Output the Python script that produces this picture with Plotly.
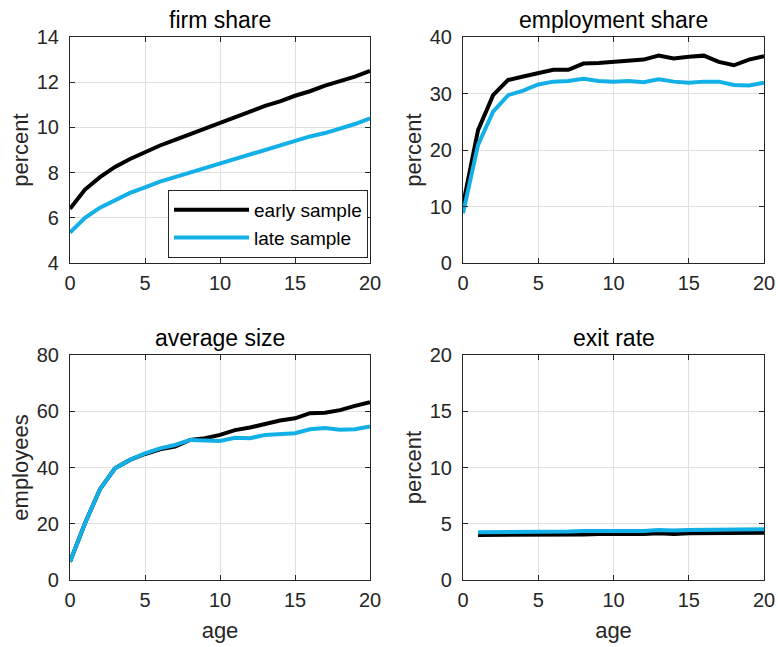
import plotly.graph_objects as go

ages = list(range(0, 21))
exit_ages = list(range(1, 21))

firm_early = [6.4, 7.25, 7.8, 8.25, 8.6, 8.9, 9.2, 9.45, 9.7, 9.95, 10.2,
              10.45, 10.7, 10.95, 11.15, 11.4, 11.6, 11.85, 12.05, 12.25, 12.5]
firm_late = [5.35, 6.0, 6.45, 6.8, 7.1, 7.35, 7.6, 7.8, 8.0, 8.2, 8.4,
             8.6, 8.8, 9.0, 9.2, 9.4, 9.6, 9.75, 9.95, 10.15, 10.4]

emp_early = [10.3, 23.5, 29.7, 32.4, 33.0, 33.6, 34.2, 34.2, 35.3, 35.4, 35.6,
             35.9, 36.0, 36.7, 36.2, 36.5, 36.7, 35.6, 35.0, 36.0, 36.6]
emp_late = [8.8, 20.9, 26.8, 29.7, 30.5, 31.6, 32.1, 32.2, 32.6, 32.2, 32.1,
            32.2, 32.0, 32.5, 32.1, 31.9, 32.1, 32.1, 31.5, 31.4, 31.9]

size_early = [6.5, 20.2, 32.3, 39.7, 42.7, 44.8, 46.5, 47.4, 49.8, 50.4, 51.6,
              53.3, 54.2, 55.5, 56.7, 57.5, 59.3, 59.5, 60.4, 61.9, 63.2]
size_late = [6.5, 20.2, 32.3, 39.7, 42.7, 45.0, 46.8, 48.0, 49.8, 49.6, 49.4,
             50.6, 50.4, 51.6, 51.8, 52.2, 53.6, 54.0, 53.4, 53.6, 54.6]

exit_early = [4.0, 4.0, 4.0, 4.0, 4.05, 4.05, 4.05, 4.05, 4.1, 4.1,
              4.05, 4.1, 4.15, 4.1, 4.15, 4.15, 4.2, 4.15, 4.2, 4.2]
exit_late = [4.25, 4.25, 4.25, 4.25, 4.3, 4.3, 4.3, 4.35, 4.35, 4.4,
             4.35, 4.35, 4.45, 4.4, 4.45, 4.45, 4.45, 4.5, 4.5, 4.5]

BLACK = "#000000"
BLUE = "#12B0E6"
AX = "#262626"
FONT = "Liberation Sans, Arial, sans-serif"

W, H = 778, 647
# pixel boxes of each panel: (left, right, top, bottom)
boxes = {
    1: (70, 370, 37, 263),
    2: (463, 764, 37, 263),
    3: (70, 370, 355, 580),
    4: (463, 764, 355, 580),
}

panels = [
    (1, "firm share", ages, firm_early, firm_late, [4, 14], 2, "percent", False),
    (2, "employment share", ages, emp_early, emp_late, [0, 40], 10, "percent", False),
    (3, "average size", ages, size_early, size_late, [0, 80], 20, "employees", True),
    (4, "exit rate", exit_ages, exit_early, exit_late, [0, 20], 5, "percent", True),
]

fig = go.Figure()
annotations = []
for i, title, x, early, late, yr, dt, ylab, show_age in panels:
    sfx = "" if i == 1 else str(i)
    fig.add_trace(go.Scatter(x=x, y=early, mode="lines", name="early sample",
                             line=dict(color=BLACK, width=4),
                             xaxis="x" + sfx, yaxis="y" + sfx, showlegend=(i == 1)))
    fig.add_trace(go.Scatter(x=x, y=late, mode="lines", name="late sample",
                             line=dict(color=BLUE, width=4),
                             xaxis="x" + sfx, yaxis="y" + sfx, showlegend=(i == 1)))
    l, r, t, b = boxes[i]
    common = dict(showline=True, linecolor=AX, linewidth=1.2, mirror="ticks",
                  ticks="inside", ticklen=5, tickcolor=AX, automargin=False,
                  showgrid=True, gridcolor="#e0e0e0", gridwidth=1,
                  zeroline=False, tickfont=dict(size=20, color=AX, family=FONT))
    fig.layout["xaxis" + sfx] = dict(
        common, domain=[l / W, r / W], range=[0, 20], dtick=5,
        anchor="y" + sfx, ticklabelstandoff=2,
        title=dict(text="age" if show_age else "", standoff=12,
                   font=dict(size=22, color=AX, family=FONT)))
    fig.layout["yaxis" + sfx] = dict(
        common, domain=[1 - b / H, 1 - t / H], range=yr, dtick=dt,
        anchor="x" + sfx, ticklabelstandoff=6,
        title=dict(text=ylab, standoff=1,
                   font=dict(size=22, color=AX, family=FONT)))
    annotations.append(dict(text=title, x=(l + r) / 2 / W, y=1 - (t - 2) / H,
                            xref="paper", yref="paper", xanchor="center",
                            yanchor="bottom", showarrow=False,
                            font=dict(size=23, color="#000000", family=FONT)))

fig.update_layout(
    width=W, height=H,
    margin=dict(l=0, r=0, t=0, b=0),
    paper_bgcolor="white", plot_bgcolor="white",
    font=dict(family=FONT, color=AX),
    annotations=annotations,
    legend=dict(x=368 / W, y=1 - 190 / H, xanchor="right", yanchor="top",
                xref="paper", yref="paper",
                bgcolor="white", bordercolor=AX, borderwidth=1,
                font=dict(size=19, color="#000000", family=FONT),
                itemwidth=75, tracegroupgap=0),
)

fig.write_html("out.html", config={"displayModeBar": False},
               post_script="document.body.style.margin='0';")
